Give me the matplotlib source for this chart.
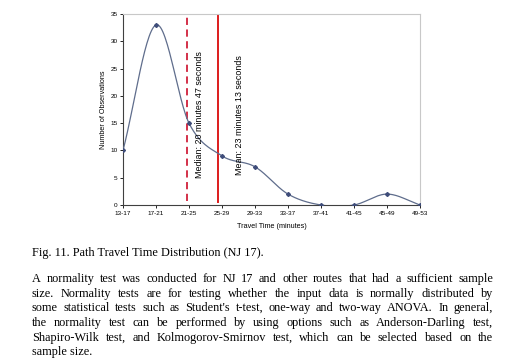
import numpy as np
import matplotlib
matplotlib.use("Agg")
import matplotlib.pyplot as plt

categories = ["13-17", "17-21", "21-25", "25-29", "29-33", "33-37",
              "37-41", "41-45", "45-49", "49-53"]
observations = [10, 33, 15, 9, 7, 2, 0, 0, 2, 0]
yticks = [0, 5, 10, 15, 20, 25, 30, 35]
median_pos = 1.93
mean_pos = 2.87
median_label = "Median: 20 minutes 47 seconds"
mean_label = "Mean: 23 minutes 13 seconds"
caption = "Fig. 11. Path Travel Time Distribution (NJ 17)."
paragraph_lines = [
    "A normality test was conducted for NJ 17 and other routes that had a sufficient sample",
    "size. Normality tests are for testing whether the input data is normally distributed by",
    "some statistical tests such as Student's t-test, one-way and two-way ANOVA. In general,",
    "the normality test can be performed by using options such as Anderson-Darling test,",
    "Shapiro-Wilk test, and Kolmogorov-Smirnov test, which can be selected based on the",
    "sample size.",
]

W, H = 510, 361
fig = plt.figure(figsize=(W / 100, H / 100), dpi=100)
fig.patch.set_facecolor("white")

ax = fig.add_axes([123 / W, 1 - 205 / H, (420 - 123) / W, (205 - 14) / H])

# Smoothed (Catmull-Rom) line through the data points, like a spreadsheet smooth line
x = np.arange(len(observations), dtype=float)
y = np.array(observations, dtype=float)
px = np.concatenate([[2 * x[0] - x[1]], x, [2 * x[-1] - x[-2]]])
py = np.concatenate([[2 * y[0] - y[1]], y, [2 * y[-1] - y[-2]]])
sx, sy = [], []
t = np.linspace(0, 1, 30)
for i in range(1, len(px) - 2):
    p0, p1, p2, p3 = [np.array([px[j], py[j]]) for j in (i - 1, i, i + 1, i + 2)]
    for tt in t:
        pt = 0.5 * ((2 * p1) + (-p0 + p2) * tt + (2 * p0 - 5 * p1 + 4 * p2 - p3) * tt ** 2
                    + (-p0 + 3 * p1 - 3 * p2 + p3) * tt ** 3)
        sx.append(pt[0]); sy.append(pt[1])
ax.plot(sx, sy, color="#5f6d8c", lw=0.9, zorder=3)
ax.plot(x, y, linestyle="none", marker="D", ms=2.0, color="#3f4d7a", zorder=4)

ax.plot([median_pos, median_pos], [0.8, 35], color="#d0203a", lw=1.3, ls=(0, (4, 2.5)), zorder=2)
ax.plot([mean_pos, mean_pos], [0.6, 35], color="#dd1c1c", lw=1.4, zorder=2)

ax.text(2.33, 16.5, median_label, rotation=90, ha="center", va="center",
        fontsize=6.4, family="Liberation Sans", color="black")
ax.text(3.52, 16.5, mean_label, rotation=90, ha="center", va="center",
        fontsize=6.4, family="Liberation Sans", color="black")

ax.set_xlim(0, len(categories) - 1)
ax.set_ylim(0, 35)
ax.set_xticks(x)
ax.set_xticklabels(categories, fontsize=4.6, family="Liberation Sans")
ax.set_yticks(yticks)
ax.set_yticklabels([str(v) for v in yticks], fontsize=4.6, family="Liberation Sans")
ax.tick_params(axis="both", length=2, width=0.6, pad=2, colors="black")
for s in ["top", "right"]:
    ax.spines[s].set_color("#c8c8c8")
    ax.spines[s].set_linewidth(0.8)
ax.spines["left"].set_color("#404040")
ax.spines["bottom"].set_color("#404040")
ax.spines["left"].set_linewidth(0.8)
ax.spines["bottom"].set_linewidth(0.8)
ax.set_ylabel("Number of Observations", fontsize=5.2, family="Liberation Sans", labelpad=2)
ax.set_xlabel("Travel Time (minutes)", fontsize=5.2, family="Liberation Sans", labelpad=5)

# Caption and paragraph (justified)
serif = "Liberation Serif"
fs = 8.8
fig.text(32 / W, 1 - 253 / H, "Fig. 11. Path Travel Time Distribution (NJ 17).",
         fontsize=fs, family=serif, va="center", ha="left")

renderer = fig.canvas.get_renderer()
left_px, right_px = 32, 493
line_y = [279, 294, 308, 323, 338, 352]
for li, line in enumerate(paragraph_lines):
    yf = 1 - line_y[li] / H
    words = line.split(" ")
    if li == len(paragraph_lines) - 1:
        fig.text(left_px / W, yf, line, fontsize=fs, family=serif, va="center", ha="left")
        continue
    objs = [fig.text(0, yf, w, fontsize=fs, family=serif, va="center", ha="left") for w in words]
    widths = [o.get_window_extent(renderer).width for o in objs]
    gap = (right_px - left_px - sum(widths)) / (len(words) - 1)
    cur = left_px
    for o, w in zip(objs, widths):
        o.set_x(cur / W)
        cur += w + gap

fig.savefig("out.png", dpi=100, facecolor="white")
